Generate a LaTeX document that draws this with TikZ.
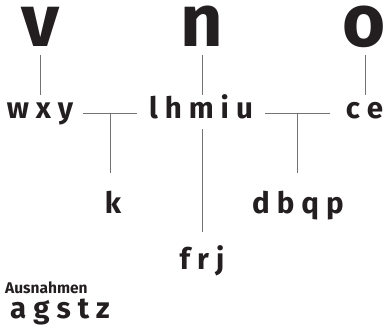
\documentclass[tikz,border=0pt]{standalone}
\usepackage{fontspec}
\setmainfont{Fira Sans}
\usetikzlibrary{calc}
\definecolor{ink}{HTML}{231F20}
\begin{document}
\begin{tikzpicture}[x=1pt,y=1pt,
  big/.style={inner sep=0pt,anchor=base,text=ink,font=\fontsize{74}{74}\selectfont\bfseries},
  grp/.style={inner sep=0pt,anchor=base,text=ink,font=\fontsize{29.5}{31}\selectfont\bfseries},
  small/.style={inner sep=0pt,anchor=base west,text=ink,font=\fontsize{15.5}{17}\selectfont\bfseries},
  link/.style={draw=black!55,line width=0.9pt}]
\useasboundingbox (0,0) rectangle (384,-330);
\node[big] (v) at (40,-46) {v};
\node[big] (n) at (202,-46) {n};
\node[big] (o) at (364,-46) {o};
\node[grp] (wxy) at (40,-118) {w x y};
\node[grp] (lhmiu) at (201,-118) {l h m i u};
\node[grp] (ce) at (364.5,-118) {c e};
\node[grp] (k) at (113,-213) {k};
\node[grp] (dbqp) at (298,-213) {d b q p};
\node[grp] (frj) at (202,-269) {f r j};
\node[small] (aus) at (5,-293) {Ausnahmen};
\node[grp,anchor=base west] (ex) at (10,-318) {a g s t z};
% vertical links from big letters
\draw[link] ([yshift=-9pt]v.base) -- ([yshift=23pt]v.base |- wxy.base);
\draw[link] ([yshift=-9pt]n.base) -- ([yshift=23pt]n.base |- lhmiu.base);
\draw[link] ([yshift=-9pt,xshift=1pt]o.base) -- ([yshift=23pt,xshift=1pt]o.base |- ce.base);
% horizontal links
\coordinate (a1) at ([xshift=10pt,yshift=5pt]wxy.base east);
\coordinate (a2) at ([xshift=-12pt,yshift=5pt]lhmiu.base west);
\coordinate (b1) at ([xshift=12pt,yshift=5pt]lhmiu.base east);
\coordinate (b2) at ([xshift=-16pt,yshift=5pt]ce.base west);
\draw[link] (a1) -- (a2);
\draw[link] (b1) -- (b2);
\coordinate (ja) at ($(a1)!0.5!(a2)$);
\coordinate (jb) at ($(b1)!0.5!(b2)$);
\draw[link] (ja) -- ([yshift=40pt]ja |- k.base);
\draw[link] (jb) -- ([yshift=40pt]jb |- dbqp.base);
\draw[link] ([yshift=-11pt,xshift=1pt]lhmiu.base) -- ([yshift=37pt,xshift=1pt]lhmiu.base |- frj.base);
\end{tikzpicture}
\end{document}
